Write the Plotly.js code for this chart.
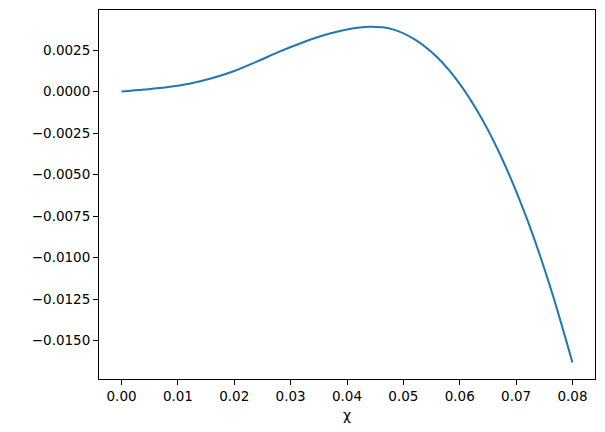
<!DOCTYPE html>
<html>
<head>
<meta charset="utf-8">
<script src="https://cdn.plot.ly/plotly-3.0.1.min.js"></script>
<style>
  body { margin: 0; padding: 0; background: #ffffff; }
  #chart { width: 605px; height: 432px; }
</style>
</head>
<body>
<div id="chart"></div>
<script>
// values
const chi = [0, 0.004, 0.008, 0.012, 0.016, 0.020, 0.024, 0.028, 0.032, 0.036, 0.040,
             0.044, 0.048, 0.052, 0.056, 0.060, 0.064, 0.068, 0.072, 0.076, 0.080];
const values = [0, 0.00012, 0.00026, 0.00047, 0.00080, 0.00124, 0.00180, 0.00240, 0.00294, 0.00340, 0.00374,
                0.00390, 0.00376, 0.00314, 0.00206, 0.00046, -0.00169, -0.00441, -0.00773, -0.01170, -0.01632];

const xTicks = [0, 0.01, 0.02, 0.03, 0.04, 0.05, 0.06, 0.07, 0.08];
const yTicks = [0.0025, 0, -0.0025, -0.005, -0.0075, -0.01, -0.0125, -0.015];

const tickFont = {family: 'DejaVu Sans', size: 13.5, color: '#000000'};

const axisCommon = {
    showline: true,
    mirror: true,
    linecolor: '#000000',
    linewidth: 1,
    ticks: 'outside',
    ticklen: 5,
    tickwidth: 1,
    tickcolor: '#000000',
    showgrid: false,
    zeroline: false,
    tickfont: tickFont,
};

Plotly.newPlot('chart', [{
    x: chi,
    y: values,
    mode: 'lines',
    line: {color: '#1f77b4', width: 2, shape: 'spline', smoothing: 1},
    hoverinfo: 'none',
}], {
    width: 605,
    height: 432,
    margin: {l: 99, r: 10, t: 10, b: 53},
    paper_bgcolor: '#ffffff',
    plot_bgcolor: '#ffffff',
    showlegend: false,
    font: {family: 'DejaVu Sans', color: '#000000'},
    xaxis: Object.assign({}, axisCommon, {
        range: [-0.004, 0.084],
        tickvals: xTicks,
        tickformat: '.2f',
        title: {text: 'χ', font: {family: 'DejaVu Sans', size: 14, color: '#000000'}, standoff: 6},
    }),
    yaxis: Object.assign({}, axisCommon, {
        range: [-0.01731, 0.00491],
        tickvals: yTicks,
        tickformat: '.4f',
    }),
}, {displayModeBar: false, staticPlot: true});
</script>
</body>
</html>
